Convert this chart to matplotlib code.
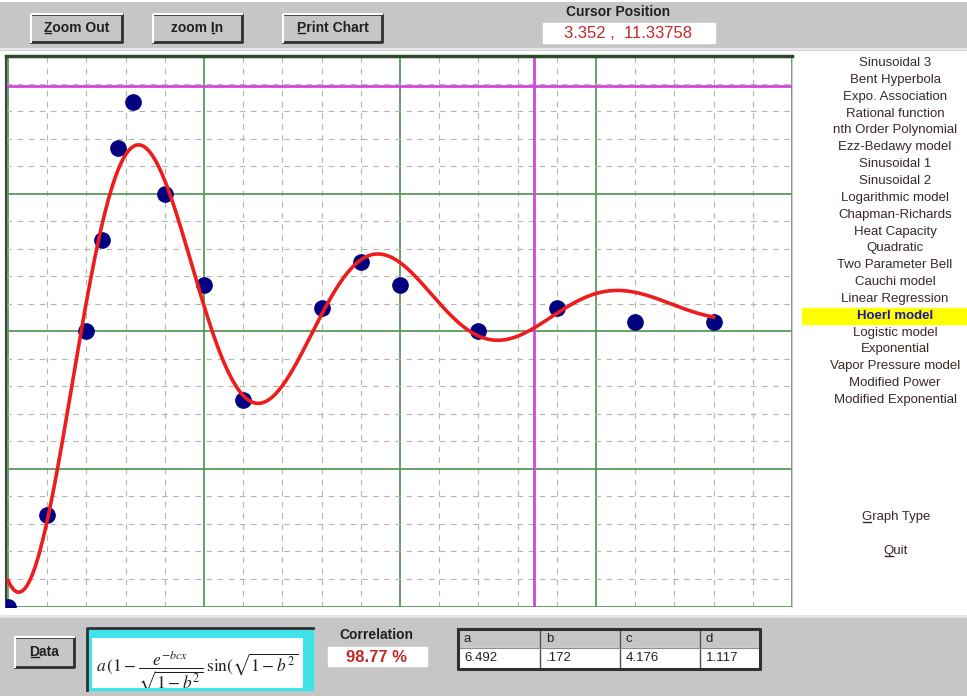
import numpy as np
import matplotlib
matplotlib.use('Agg')
import matplotlib.pyplot as plt
from matplotlib.patches import Rectangle
from matplotlib.ticker import MultipleLocator

plt.rcParams['font.family'] = ['Liberation Sans', 'DejaVu Sans']
plt.rcParams['mathtext.fontset'] = 'stix'

# observed points
x_data = [0.0, 0.25, 0.5, 0.6, 0.7, 0.8, 1.0, 1.25, 1.5, 2.0, 2.25, 2.5, 3.0, 3.5, 4.0, 4.5]
y_data = [0.0, 2.0, 6.0, 8.0, 10.0, 11.0, 9.0, 7.0, 4.5, 6.5, 7.5, 7.0, 6.0, 6.5, 6.2, 6.2]

# fitted parameters shown in the table
param_names = ['a', 'b', 'c', 'd']
param_labels = ['6.492', '.172', '4.176', '1.117']
a, b, c, d = 6.492, 0.172, 4.176, 1.117
correlation = '98.77 %'
cursor_x, cursor_y = 3.352, 11.33758

model_names = ['Sinusoidal 3', 'Bent Hyperbola', 'Expo. Association', 'Rational function',
               'nth Order Polynomial', 'Ezz-Bedawy model', 'Sinusoidal 1', 'Sinusoidal 2',
               'Logarithmic model', 'Chapman-Richards', 'Heat Capacity', 'Quadratic',
               'Two Parameter Bell', 'Cauchi model', 'Linear Regression', 'Hoerl model',
               'Logistic model', 'Exponential', 'Vapor Pressure model', 'Modified Power',
               'Modified Exponential']
selected_model = 'Hoerl model'

GRAY = '#c6c6c6'
TXT = '#3a2828'

fig = plt.figure(figsize=(9.67, 6.96), dpi=100, facecolor=GRAY)
renderer = fig.canvas.get_renderer()

# full-figure axes in pixel units for the window furniture
ui = fig.add_axes([0, 0, 1, 1], zorder=0)
ui.set_xlim(0, 967)
ui.set_ylim(696, 0)
ui.axis('off')

ui.add_patch(Rectangle((0, 0), 967, 696, color=GRAY))
ui.plot([0, 967], [1, 1], color='white', lw=1.5)
ui.plot([0, 967], [49, 49], color='#e8e8e8', lw=1.5)
ui.add_patch(Rectangle((0, 51), 967, 564, color='white'))
ui.plot([0, 967], [616, 616], color='#e6e6e6', lw=2)


def text_width(s, **kw):
    t = ui.text(0, 0, s, **kw)
    w = t.get_window_extent(renderer).width
    t.remove()
    return w


def label(cx, cy, s, ul=None, **kw):
    ui.text(cx, cy, s, ha='center', va='center', **kw)
    if ul is not None:
        left = cx - text_width(s, **kw) / 2
        x0 = left + text_width(s[:ul], **kw) if ul else left
        x1 = left + text_width(s[:ul + 1], **kw)
        ui.plot([x0 + 1, x1 - 1], [cy + 5, cy + 5], color=kw.get('color', 'black'), lw=1)


def button(x0, y0, x1, y1, s, ul=0):
    ui.add_patch(Rectangle((x0, y0), x1 - x0, y1 - y0, color=GRAY))
    ui.plot([x0, x1, x1, x0], [y1, y1, y0, y0], color='#303030', lw=2)
    ui.plot([x0, x0, x1], [y1, y0, y0], color='white', lw=1.5)
    label((x0 + x1) / 2, (y0 + y1) / 2, s, ul=ul, fontsize=10, fontweight='bold', color='#202020')


button(31, 14, 122, 42, 'Zoom Out', 0)
button(153, 14, 242, 42, 'zoom In', 5)
button(283, 14, 382, 42, 'Print Chart', 0)

ui.text(618, 12, 'Cursor Position', ha='center', va='center', fontsize=10, fontweight='bold', color='#202020')
ui.add_patch(Rectangle((543, 23), 172, 20, color='white'))
ui.text(628, 33.5, f'{cursor_x} ,  {cursor_y}', ha='center', va='center', fontsize=12, color='#c42828')

# model list on the right
for i, name in enumerate(model_names):
    yy = 63 + i * 16.85
    if name == selected_model:
        ui.add_patch(Rectangle((802, yy - 8), 165, 16.5, color='#ffff00'))
        ui.text(895, yy, name, ha='center', va='center', fontsize=9.5, fontweight='bold', color='#1a1aa0')
    else:
        ui.text(895, yy, name, ha='center', va='center', fontsize=9.5, color=TXT)

label(896, 517, 'Graph Type', ul=0, fontsize=9.5, color=TXT)
label(896, 551, 'Quit', ul=0, fontsize=9.5, color=TXT)

# bottom panel
button(15, 637, 74, 667, 'Data', 0)

ui.add_patch(Rectangle((87, 628), 226, 62, color='#3ee4ea'))
ui.plot([87, 87, 313], [690, 628, 628], color='#303030', lw=2)

ui.text(376, 635, 'Correlation', ha='center', va='center', fontsize=10, fontweight='bold', color='#202020')
ui.add_patch(Rectangle((328, 647), 99, 19, color='white'))
ui.text(376, 657, correlation, ha='center', va='center', fontsize=12, fontweight='bold', color='#c42828')

col_x = [458, 540, 620, 700, 760]
ui.add_patch(Rectangle((458, 629), 302, 19, color=GRAY))
ui.add_patch(Rectangle((458, 648), 302, 19, color='white'))
for xx in col_x[1:-1]:
    ui.plot([xx, xx], [629, 667], color='#505050', lw=1)
ui.plot([458, 760], [648, 648], color='#909090', lw=0.8)
ui.plot([458, 760, 760, 458, 458], [629, 629, 669, 669, 629], color='#303030', lw=2.2)
for i, (nm, val) in enumerate(zip(param_names, param_labels)):
    ui.text(col_x[i] + 6, 639, nm, ha='left', va='center', fontsize=9.5, color='#202020')
    ui.text(col_x[i] + 6, 658, val, ha='left', va='center', fontsize=9.5, color='#202020')

# formula box (the window shows only the start of the expression)
fax = fig.add_axes([92 / 967, 1 - 688 / 696, 211 / 967, 50 / 696], zorder=3)
fax.set_xlim(0, 1)
fax.set_ylim(0, 1)
fax.set_xticks([])
fax.set_yticks([])
for s in fax.spines.values():
    s.set_visible(False)
fax.text(0.02, 0.32, r'$a\,(1-\dfrac{e^{-bcx}}{\sqrt{1-b^2}}\,\sin(\sqrt{1-b^2}$',
         ha='left', va='center', fontsize=12.5, color='#202020', clip_on=True)

# chart
ax = fig.add_axes([6 / 967, 1 - 606.5 / 696, 786 / 967, 550.5 / 696], zorder=2)
ax.set_facecolor('white')
ax.set_xlim(-0.0128, 5.0)
ax.set_ylim(0, 12)
ax.xaxis.set_major_locator(MultipleLocator(1.25))
ax.xaxis.set_minor_locator(MultipleLocator(0.25))
ax.yaxis.set_major_locator(MultipleLocator(3))
ax.yaxis.set_minor_locator(MultipleLocator(0.6))
ax.grid(which='minor', color='#b4b4b4', linestyle=(0, (5, 5)), lw=0.8)
ax.grid(which='major', color='#5a9a5a', linestyle='-', lw=1.3)
ax.tick_params(which='both', length=0, labelbottom=False, labelleft=False)
ax.set_axisbelow(True)
ax.spines['top'].set_color('#2a4a2a')
ax.spines['top'].set_linewidth(2.5)
ax.spines['left'].set_color('#404040')
ax.spines['left'].set_linewidth(1.5)
ax.spines['right'].set_color('#d0d0d0')
ax.spines['bottom'].set_visible(False)

ax.axhline(cursor_y, color='#d048d8', lw=2, zorder=2)
ax.axvline(cursor_x, color='#d048d8', lw=2, zorder=2)

x_fit = np.linspace(0, max(x_data), 400)
w = np.sqrt(1 - b ** 2)
y_fit = a * (1 - np.exp(-b * c * x_fit) / w * np.sin(w * c * x_fit + d))

ax.plot(x_data, y_data, 'o', color='#000080', markersize=11, zorder=3)
ax.plot(x_fit, y_fit, color='#ee1c1c', lw=2.6, zorder=4)

fig.savefig('out.png', dpi=100, facecolor=GRAY)
